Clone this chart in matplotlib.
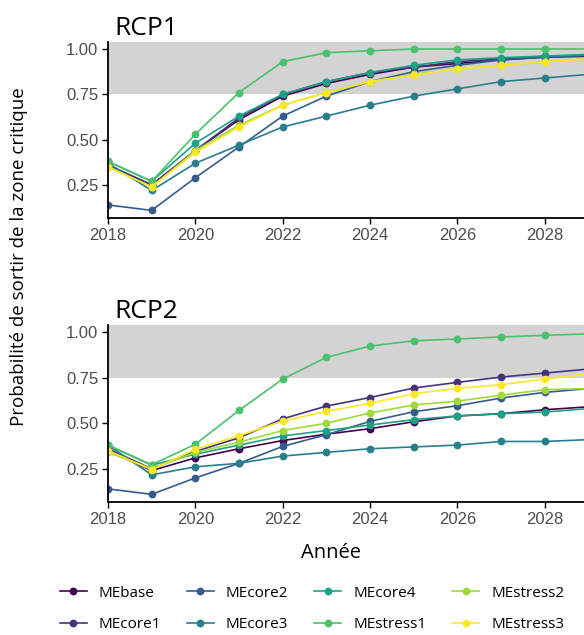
import matplotlib
matplotlib.use("Agg")
import matplotlib.pyplot as plt

years = [2018, 2019, 2020, 2021, 2022, 2023, 2024, 2025, 2026, 2027, 2028, 2029]

models = ["MEbase", "MEcore1", "MEcore2", "MEcore3", "MEcore4",
          "MEstress1", "MEstress2", "MEstress3"]
colors = ["#440154", "#46337E", "#365C8D", "#277F8E", "#1FA187",
          "#4AC16D", "#9FDA3A", "#FDE725"]

rcp1 = {
    "MEbase":    [0.36, 0.25, 0.44, 0.61, 0.74, 0.81, 0.86, 0.90, 0.92, 0.94, 0.955, 0.96],
    "MEcore1":   [0.36, 0.25, 0.44, 0.62, 0.75, 0.82, 0.87, 0.90, 0.93, 0.945, 0.96, 0.965],
    "MEcore2":   [0.14, 0.11, 0.29, 0.46, 0.63, 0.74, 0.82, 0.875, 0.91, 0.94, 0.955, 0.965],
    "MEcore3":   [0.37, 0.22, 0.37, 0.47, 0.57, 0.63, 0.69, 0.74, 0.78, 0.82, 0.84, 0.86],
    "MEcore4":   [0.38, 0.27, 0.48, 0.63, 0.75, 0.82, 0.87, 0.91, 0.94, 0.952, 0.961, 0.97],
    "MEstress1": [0.38, 0.27, 0.53, 0.76, 0.93, 0.98, 0.99, 1.00, 1.00, 1.00, 1.00, 1.00],
    "MEstress2": [0.35, 0.24, 0.44, 0.58, 0.69, 0.76, 0.82, 0.86, 0.89, 0.91, 0.93, 0.945],
    "MEstress3": [0.35, 0.24, 0.43, 0.57, 0.69, 0.76, 0.82, 0.857, 0.89, 0.91, 0.93, 0.945],
}

rcp2 = {
    "MEbase":    [0.35, 0.24, 0.31, 0.36, 0.405, 0.44, 0.47, 0.508, 0.54, 0.552, 0.574, 0.59],
    "MEcore1":   [0.36, 0.25, 0.345, 0.42, 0.524, 0.594, 0.641, 0.693, 0.724, 0.753, 0.775, 0.797],
    "MEcore2":   [0.14, 0.11, 0.20, 0.28, 0.373, 0.437, 0.51, 0.563, 0.596, 0.638, 0.669, 0.69],
    "MEcore3":   [0.38, 0.217, 0.261, 0.28, 0.32, 0.34, 0.36, 0.37, 0.38, 0.40, 0.40, 0.41],
    "MEcore4":   [0.38, 0.27, 0.33, 0.38, 0.43, 0.46, 0.49, 0.52, 0.54, 0.552, 0.561, 0.58],
    "MEstress1": [0.38, 0.272, 0.385, 0.57, 0.742, 0.861, 0.923, 0.952, 0.962, 0.973, 0.982, 0.99],
    "MEstress2": [0.34, 0.25, 0.34, 0.396, 0.46, 0.50, 0.556, 0.60, 0.621, 0.654, 0.684, 0.69],
    "MEstress3": [0.35, 0.245, 0.358, 0.431, 0.512, 0.565, 0.609, 0.662, 0.691, 0.711, 0.742, 0.77],
}

panels = [("RCP1", rcp1), ("RCP2", rcp2)]
y_ticks = [0.25, 0.50, 0.75, 1.00]
x_ticks = [2018, 2020, 2022, 2024, 2026, 2028]

W, H = 584, 635
fig = plt.figure(figsize=(W / 100, H / 100), dpi=100)

title_font = "Open Sans"
tick_font = "Liberation Sans"

# panel boxes in pixels: (left, top, right, bottom)
boxes = [(108, 42, 584, 218), (108, 325, 584, 502)]

for (name, data), (l, t, r, b) in zip(panels, boxes):
    ax = fig.add_axes([l / W, 1 - b / H, (r - l) / W, (b - t) / H])
    ax.axhspan(0.75, 1.2, color="#D3D3D3", lw=0, zorder=0)
    for m, c in zip(models, colors):
        ax.plot(years, data[m], color=c, lw=1.2, marker="o", ms=4.6,
                label=m, zorder=2)
    ax.set_xlim(2018, 2028.9)
    ax.set_ylim(0.068, 1.0386)
    ax.set_xticks(x_ticks)
    ax.set_yticks(y_ticks)
    ax.set_yticklabels([f"{v:.2f}" for v in y_ticks])
    for side in ("top", "right"):
        ax.spines[side].set_visible(False)
    for side in ("left", "bottom"):
        ax.spines[side].set_linewidth(1.3)
    ax.tick_params(length=4, width=1.0, colors="black", labelcolor="#4D4D4D",
                   labelsize=12, pad=3)
    for lab in ax.get_xticklabels() + ax.get_yticklabels():
        lab.set_fontfamily(tick_font)
    # panel title sits just above the panel box
    fig.text(114 / W, 1 - (t - 7) / H, name, fontsize=19, family=title_font,
             ha="left", va="baseline")

fig.text(19 / W, 1 - 257 / H, "Probabilité de sortir de la zone critique",
         rotation=90, ha="center", va="center", fontsize=13.5, family=title_font)
fig.text(331 / W, 1 - 553 / H, "Année", ha="center", va="center",
         fontsize=14.5, family=title_font)

handles, labels = fig.axes[0].get_legend_handles_labels()
leg = fig.legend(handles, labels, ncol=4, loc="center",
                 bbox_to_anchor=(312 / W, 1 - 609 / H), frameon=False,
                 handlelength=1.77, handletextpad=0.78, columnspacing=1.7,
                 labelspacing=1.1, prop={"family": title_font, "size": 11})

fig.savefig("out.png", dpi=100)
